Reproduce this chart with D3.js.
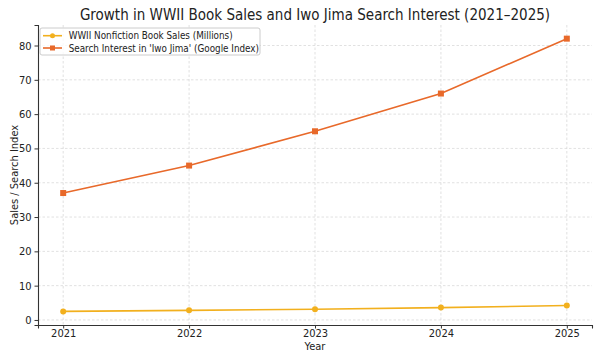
<!DOCTYPE html>
<html>
<head>
<meta charset="utf-8">
<script src="https://cdn.jsdelivr.net/npm/d3@7"></script>
<style>
  body { margin: 0; background: #fff; }
  text { font-family: "DejaVu Sans Condensed", "DejaVu Sans", sans-serif; fill: #222; }
</style>
</head>
<body>
<script>
// data
var years = [2021, 2022, 2023, 2024, 2025];
var bookSales = [2.5, 2.8, 3.1, 3.6, 4.2];
var searchIndex = [37, 45, 55, 66, 82];
var yTicks = [0, 10, 20, 30, 40, 50, 60, 70, 80];
var seriesNames = ["WWII Nonfiction Book Sales (Millions)", "Search Interest in 'Iwo Jima' (Google Index)"];

var W = 602, H = 361;
var m = {top: 25, right: 10, bottom: 36, left: 38};
var w = W - m.left - m.right, h = H - m.top - m.bottom;

var svg = d3.select("body").append("svg")
  .attr("width", W).attr("height", H);

var x = d3.scaleLinear().domain([2020.8, 2025.2]).range([0, w]);
var y = d3.scaleLinear().domain([-1.47, 85.98]).range([h, 0]);

var g = svg.append("g").attr("transform", "translate(" + m.left + "," + m.top + ")");

// grid
g.append("g").selectAll("line").data(years).enter().append("line")
  .attr("x1", d => x(d)).attr("x2", d => x(d)).attr("y1", 0).attr("y2", h)
  .attr("stroke", "#d9d9d9").attr("stroke-width", 0.8).attr("stroke-dasharray", "2.5,2");
g.append("g").selectAll("line").data(yTicks).enter().append("line")
  .attr("x1", 0).attr("x2", w).attr("y1", d => y(d)).attr("y2", d => y(d))
  .attr("stroke", "#d9d9d9").attr("stroke-width", 0.8).attr("stroke-dasharray", "2.5,2");

// axes
var xa = g.append("g").attr("transform", "translate(0," + h + ")")
  .call(d3.axisBottom(x).tickValues(years).tickFormat(d3.format("d")).tickSize(3.5).tickPadding(1));
var ya = g.append("g")
  .call(d3.axisLeft(y).tickValues(yTicks).tickSize(3.5).tickPadding(3));
[xa, ya].forEach(function(a){
  a.select(".domain").attr("stroke", "#333").attr("stroke-width", 1.1);
  a.selectAll(".tick line").attr("stroke", "#333");
  a.selectAll(".tick text").style("font-size", "11px").attr("fill", "#222")
    .style("font-family", "'DejaVu Sans Condensed', 'DejaVu Sans', sans-serif");
});

var colors = ["#f2b01e", "#e8692a"];
var series = [bookSales, searchIndex];

var line = d3.line().x((d, i) => x(years[i])).y(d => y(d));

series.forEach(function(s, k){
  g.append("path").datum(s).attr("d", line)
    .attr("fill", "none").attr("stroke", colors[k]).attr("stroke-width", 1.6);
  if (k == 0) {
    g.selectAll(".pt0").data(s).enter().append("circle")
      .attr("cx", (d, i) => x(years[i])).attr("cy", d => y(d)).attr("r", 3)
      .attr("fill", colors[k]);
  } else {
    g.selectAll(".pt1").data(s).enter().append("rect")
      .attr("x", (d, i) => x(years[i]) - 3).attr("y", d => y(d) - 3)
      .attr("width", 6).attr("height", 6).attr("fill", colors[k]);
  }
});

// title and labels
svg.append("text").attr("x", m.left + w / 2 + 0).attr("y", 20).attr("text-anchor", "middle")
  .style("font-size", "15px").text("Growth in WWII Book Sales and Iwo Jima Search Interest (2021–2025)");
svg.append("text").attr("x", m.left + w / 2).attr("y", 349.5).attr("text-anchor", "middle")
  .style("font-size", "11px").text("Year");
svg.append("text").attr("transform", "translate(17.5," + (m.top + h / 2) + ") rotate(-90)")
  .attr("text-anchor", "middle").style("font-size", "11px").text("Sales / Search Index");

// legend
var lg = g.append("g").attr("transform", "translate(2,3)");
lg.append("rect").attr("width", 220).attr("height", 27).attr("rx", 2)
  .attr("fill", "#fff").attr("fill-opacity", 0.8).attr("stroke", "#ccc");
seriesNames.forEach(function(n, k){
  var yy = 7.7 + k * 12.3;
  lg.append("line").attr("x1", 3).attr("x2", 22).attr("y1", yy).attr("y2", yy)
    .attr("stroke", colors[k]).attr("stroke-width", 1.6);
  if (k == 0) lg.append("circle").attr("cx", 12.5).attr("cy", yy).attr("r", 2.5).attr("fill", colors[k]);
  else lg.append("rect").attr("x", 10).attr("y", yy - 2.5).attr("width", 5).attr("height", 5).attr("fill", colors[k]);
  lg.append("text").attr("x", 28.7).attr("y", yy + 3.5).style("font-size", "9.8px").text(n);
});
</script>
</body>
</html>
